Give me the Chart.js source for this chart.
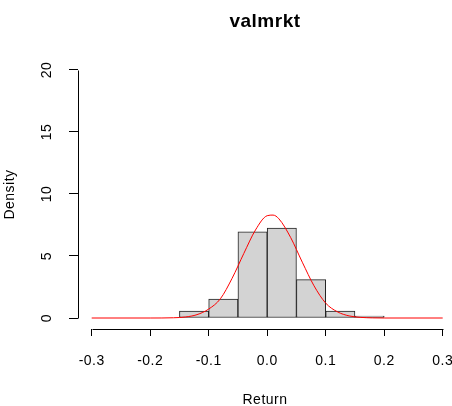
<!DOCTYPE html>
<html>
<head>
<meta charset="utf-8">
<script src="https://cdn.jsdelivr.net/npm/chart.js@4/dist/chart.umd.min.js"></script>
<style>
  html, body { margin: 0; padding: 0; background: #fff; }
  #c { display: block; }
</style>
</head>
<body>
<canvas id="c" width="452" height="406"></canvas>
<script>
// histogram bins (centres of 0.05 wide bins) and densities
const binMids = [-0.125, -0.075, -0.025, 0.025, 0.075, 0.125, 0.175];
const binDensity = [0.56, 1.53, 6.94, 7.26, 3.09, 0.56, 0.16];

// normal density curve
const curveX = [-0.3, -0.2, -0.16, -0.14, -0.12, -0.10, -0.08, -0.06, -0.04, -0.02, 0, 0.01, 0.02, 0.04, 0.06, 0.08, 0.10, 0.12, 0.14, 0.16, 0.18, 0.2, 0.3];
const curveY = [0, 0, 0.02, 0.08, 0.27, 0.72, 1.55, 3.2, 5.2, 7.1, 8.25, 8.3, 8.0, 6.5, 4.5, 2.6, 1.2, 0.5, 0.17, 0.05, 0.01, 0, 0];

const xTicks = [-0.3, -0.2, -0.1, 0, 0.1, 0.2, 0.3];
const yTicks = [0, 5, 10, 15, 20];

Chart.defaults.font.family = '"Liberation Sans", Arial, sans-serif';
Chart.defaults.color = '#000';

// R draws axis lines only from first to last tick, y labels turned 90deg
const rAxes = {
  id: 'rAxes',
  beforeUpdate(chart) { chart.ctx.letterSpacing = '0.5px'; },
  beforeDraw(chart) { chart.ctx.letterSpacing = '0.5px'; },
  afterDraw(chart) {
    const ctx = chart.ctx;
    const xs = chart.scales.x, ys = chart.scales.y;
    const area = chart.chartArea;
    ctx.save();
    ctx.strokeStyle = '#000';
    ctx.lineWidth = 1;
    ctx.beginPath();
    let yb = Math.round(area.bottom) + 0.5;
    ctx.moveTo(Math.round(xs.getPixelForValue(xTicks[0])) + 0.5, yb);
    ctx.lineTo(Math.round(xs.getPixelForValue(xTicks[xTicks.length - 1])) + 0.5, yb);
    let xl = Math.round(area.left) + 0.5;
    ctx.moveTo(xl, Math.round(ys.getPixelForValue(yTicks[0])) + 0.5);
    ctx.lineTo(xl, Math.round(ys.getPixelForValue(yTicks[yTicks.length - 1])) + 0.5);
    ctx.stroke();

    ctx.fillStyle = '#000';
    ctx.font = '14px "Liberation Sans", Arial, sans-serif';
    ctx.textAlign = 'center';
    ctx.textBaseline = 'middle';
    ys.ticks.forEach(t => {
      ctx.save();
      ctx.translate(area.left - 31, ys.getPixelForValue(t.value));
      ctx.rotate(-Math.PI / 2);
      ctx.fillText(String(t.value), 0, 0);
      ctx.restore();
    });
    ctx.restore();
  }
};

new Chart(document.getElementById('c'), {
  type: 'bar',
  data: {
    datasets: [
      {
        type: 'line',
        data: curveX.map((x, i) => ({x: x, y: curveY[i]})),
        borderColor: '#ff0000',
        borderWidth: 1,
        pointRadius: 0,
        cubicInterpolationMode: 'monotone',
        order: 0
      },
      {
        type: 'bar',
        data: binMids.map((x, i) => ({x: x, y: binDensity[i]})),
        backgroundColor: '#d3d3d3',
        borderColor: '#222',
        borderWidth: 1,
        borderSkipped: false,
        barPercentage: 1,
        categoryPercentage: 1,
        order: 1
      }
    ]
  },
  options: {
    responsive: false,
    animation: false,
    devicePixelRatio: 1,
    layout: { padding: 0 },
    plugins: {
      legend: { display: false },
      tooltip: { enabled: false },
      title: {
        display: true,
        text: 'valmrkt',
        fullSize: false,
        font: { size: 19, weight: 'bold' },
        padding: { top: 10, bottom: 27.2 }
      }
    },
    scales: {
      x: {
        type: 'linear',
        offset: false,
        min: -0.3234,
        max: 0.3159,
        afterBuildTicks(s) { s.ticks = xTicks.map(v => ({value: v})); },
        afterFit(s) { s.height = 77; s.paddingLeft = 0; s.paddingRight = 0; },
        grid: { offset: false, drawOnChartArea: false, drawTicks: true, tickLength: 7, color: '#000' },
        border: { display: false },
        ticks: {
          font: { size: 14 },
          padding: 17,
          maxRotation: 0,
          callback: v => v.toFixed(1)
        },
        title: { display: true, text: 'Return', font: { size: 14, lineHeight: 0.9 }, padding: 0 }
      },
      y: {
        min: -0.887,
        max: 20.806,
        afterBuildTicks(s) { s.ticks = yTicks.map(v => ({value: v})); },
        afterFit(s) { s.width = 78; s.paddingTop = 0; s.paddingBottom = 0; },
        grid: { drawOnChartArea: false, drawTicks: true, tickLength: 9, color: '#000' },
        border: { display: false },
        ticks: { display: false },
        title: { display: true, text: 'Density', font: { size: 14 }, padding: 2 }
      }
    }
  },
  plugins: [rAxes]
});
</script>
</body>
</html>
